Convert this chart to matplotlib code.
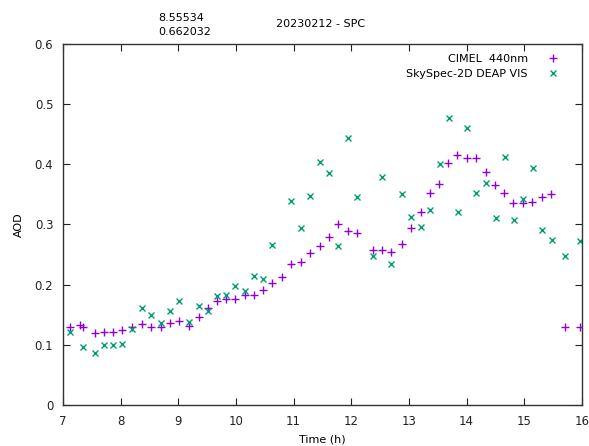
import matplotlib
matplotlib.use("Agg")
import matplotlib.pyplot as plt
import numpy as np

# datos (hora decimal, AOD)
t_cimel = [7.12, 7.29, 7.35, 7.55, 7.71, 7.87, 8.03, 8.19, 8.37, 8.53, 8.70, 8.86,
           9.01, 9.18, 9.35, 9.51, 9.67, 9.83, 9.99, 10.15, 10.31, 10.47, 10.63, 10.79,
           10.96, 11.12, 11.28, 11.45, 11.61, 11.77, 11.94, 12.10, 12.37, 12.53, 12.69,
           12.87, 13.03, 13.20, 13.36, 13.52, 13.68, 13.84, 14.01, 14.17, 14.33, 14.49,
           14.65, 14.81, 14.98, 15.14, 15.30, 15.47, 15.70, 15.96]
aod_cimel = [0.130, 0.133, 0.130, 0.119, 0.122, 0.121, 0.125, 0.129, 0.135, 0.130, 0.130, 0.137,
             0.140, 0.132, 0.146, 0.162, 0.173, 0.176, 0.177, 0.183, 0.183, 0.191, 0.203, 0.212,
             0.234, 0.238, 0.252, 0.265, 0.280, 0.300, 0.290, 0.286, 0.257, 0.257, 0.254,
             0.268, 0.294, 0.320, 0.353, 0.367, 0.402, 0.415, 0.410, 0.410, 0.388, 0.366,
             0.353, 0.336, 0.335, 0.338, 0.346, 0.350, 0.130, 0.130]

t_sky = [7.12, 7.35, 7.55, 7.71, 7.87, 8.03, 8.19, 8.37, 8.53, 8.70, 8.86, 9.01,
         9.18, 9.35, 9.51, 9.67, 9.83, 9.99, 10.15, 10.31, 10.47, 10.63, 10.96, 11.12,
         11.28, 11.45, 11.61, 11.77, 11.94, 12.10, 12.37, 12.53, 12.69, 12.87, 13.03,
         13.20, 13.36, 13.53, 13.69, 13.85, 14.01, 14.17, 14.34, 14.50, 14.66, 14.82,
         14.98, 15.15, 15.31, 15.48, 15.71, 15.96]
aod_sky = [0.121, 0.097, 0.086, 0.100, 0.099, 0.102, 0.127, 0.161, 0.149, 0.137, 0.156, 0.173,
           0.138, 0.165, 0.157, 0.181, 0.182, 0.197, 0.189, 0.215, 0.209, 0.266, 0.339, 0.295,
           0.347, 0.404, 0.386, 0.265, 0.443, 0.345, 0.248, 0.379, 0.235, 0.350, 0.313,
           0.296, 0.324, 0.400, 0.477, 0.320, 0.461, 0.353, 0.369, 0.311, 0.413, 0.308,
           0.342, 0.394, 0.291, 0.274, 0.248, 0.272]

xticks = np.arange(7, 17)
yticks = [0, 0.1, 0.2, 0.3, 0.4, 0.5, 0.6]

plt.rcParams['font.family'] = ['DejaVu Sans']
plt.rcParams['font.size'] = 8

fig = plt.figure(figsize=(5.89, 4.46), dpi=100)
ax = fig.add_axes([63/589, 41/446, 519/589, 361/446])

ax.plot(t_cimel, aod_cimel, linestyle='none', marker='+', ms=6, mew=1.0,
        color='#9400d3', label='CIMEL  440nm')
ax.plot(t_sky, aod_sky, linestyle='none', marker='x', ms=5, mew=1.0,
        color='#009e73', label='SkySpec-2D DEAP VIS')

ax.set_xlim(7, 16)
ax.set_ylim(0, 0.6)
ax.set_xticks(xticks)
ax.set_yticks(yticks)
ax.set_yticklabels(['0', '0.1', '0.2', '0.3', '0.4', '0.5', '0.6'])
ax.tick_params(direction='in', top=True, right=True, length=5, width=0.8, pad=7,
               colors='#222222', labelsize=8.5)
for s in ax.spines.values():
    s.set_linewidth(1.0)
    s.set_color('#333333')

ax.set_xlabel('Time (h)', labelpad=5)
ax.set_ylabel('AOD', labelpad=8)

ax.legend(loc='upper right', bbox_to_anchor=(1 - 14/519, 1 - 2/361), markerfirst=False,
          frameon=False, handlelength=1.3, handletextpad=1.6, labelspacing=0.45,
          borderaxespad=0.3, fontsize=8)

fig.text(158/589, 1 - 18/446, '8.55534', ha='left', va='center', fontsize=8)
fig.text(158/589, 1 - 32/446, '0.662032', ha='left', va='center', fontsize=8)
fig.text(321/589, 1 - 24/446, '20230212 - SPC', ha='center', va='center', fontsize=8)

fig.savefig('out.png', dpi=100)
